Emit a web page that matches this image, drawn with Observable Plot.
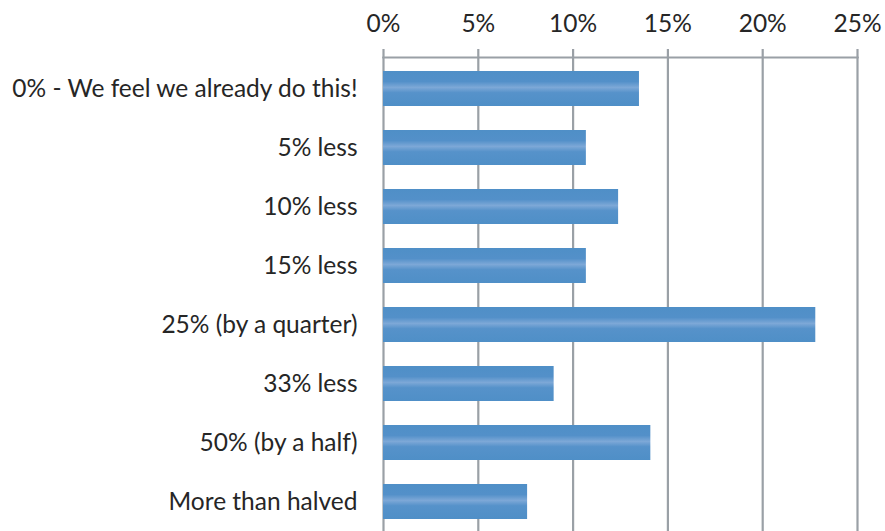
<!DOCTYPE html>
<html>
<head>
<meta charset="utf-8">
<script src="https://cdn.jsdelivr.net/npm/d3@7"></script>
<script src="https://cdn.jsdelivr.net/npm/@observablehq/plot@0.6"></script>
<style>
  html, body { margin: 0; padding: 0; background: #fff; }
  #chart svg { display: block; }
</style>
</head>
<body>
<div id="chart"></div>
<script>
const categories = [
  "0% - We feel we already do this!",
  "5% less",
  "10% less",
  "15% less",
  "25% (by a quarter)",
  "33% less",
  "50% (by a half)",
  "More than halved"
];
const values = [13.5, 10.7, 12.4, 10.7, 22.8, 9.0, 14.1, 7.6];
const xTicks = [0, 5, 10, 15, 20, 25];

const data = categories.map((c, i) => ({category: c, value: values[i]}));

const gridColor = "#9aa0a6";
const textColor = "#262626";
const fs = 24.5;

const chart = Plot.plot({
  width: 885,
  height: 531,
  marginTop: 57,
  marginLeft: 383,
  marginRight: 28,
  marginBottom: 0,
  style: {fontFamily: "Lato, 'Open Sans', sans-serif", fontSize: fs + "px", color: textColor, background: "#fff"},
  x: {domain: [0, 25], axis: null},
  y: {domain: categories, range: [57, 534], paddingInner: 0.4, paddingOuter: 0.2, axis: null},
  marks: [
    Plot.ruleX(xTicks, {stroke: gridColor, strokeWidth: 2.2}),
    Plot.barX(data, {x: "value", y: "category", fill: "url(#barGrad)"}),
    Plot.frame({anchor: "top", stroke: gridColor, strokeWidth: 2.2}),
    Plot.axisX(xTicks, {anchor: "top", label: null, tickSize: 9, tickPadding: 17, stroke: gridColor, strokeWidth: 2.2, tickFormat: d => d + "%", fill: textColor, fontSize: fs}),
    Plot.axisY({anchor: "left", label: null, tickSize: 0, tickPadding: 26, fill: textColor, fontSize: fs})
  ]
});

const svg = d3.select(chart);
const grad = svg.insert("defs", ":first-child")
  .append("linearGradient")
  .attr("id", "barGrad")
  .attr("x1", 0).attr("y1", 0).attr("x2", 0).attr("y2", 1);
[[0, "#4f8fc7"], [0.3, "#5390c9"], [0.47, "#7da8d7"], [0.62, "#5692ca"], [1, "#4f8fc7"]]
  .forEach(([o, c]) => grad.append("stop").attr("offset", o).attr("stop-color", c));

document.getElementById("chart").appendChild(chart);
</script>
</body>
</html>
